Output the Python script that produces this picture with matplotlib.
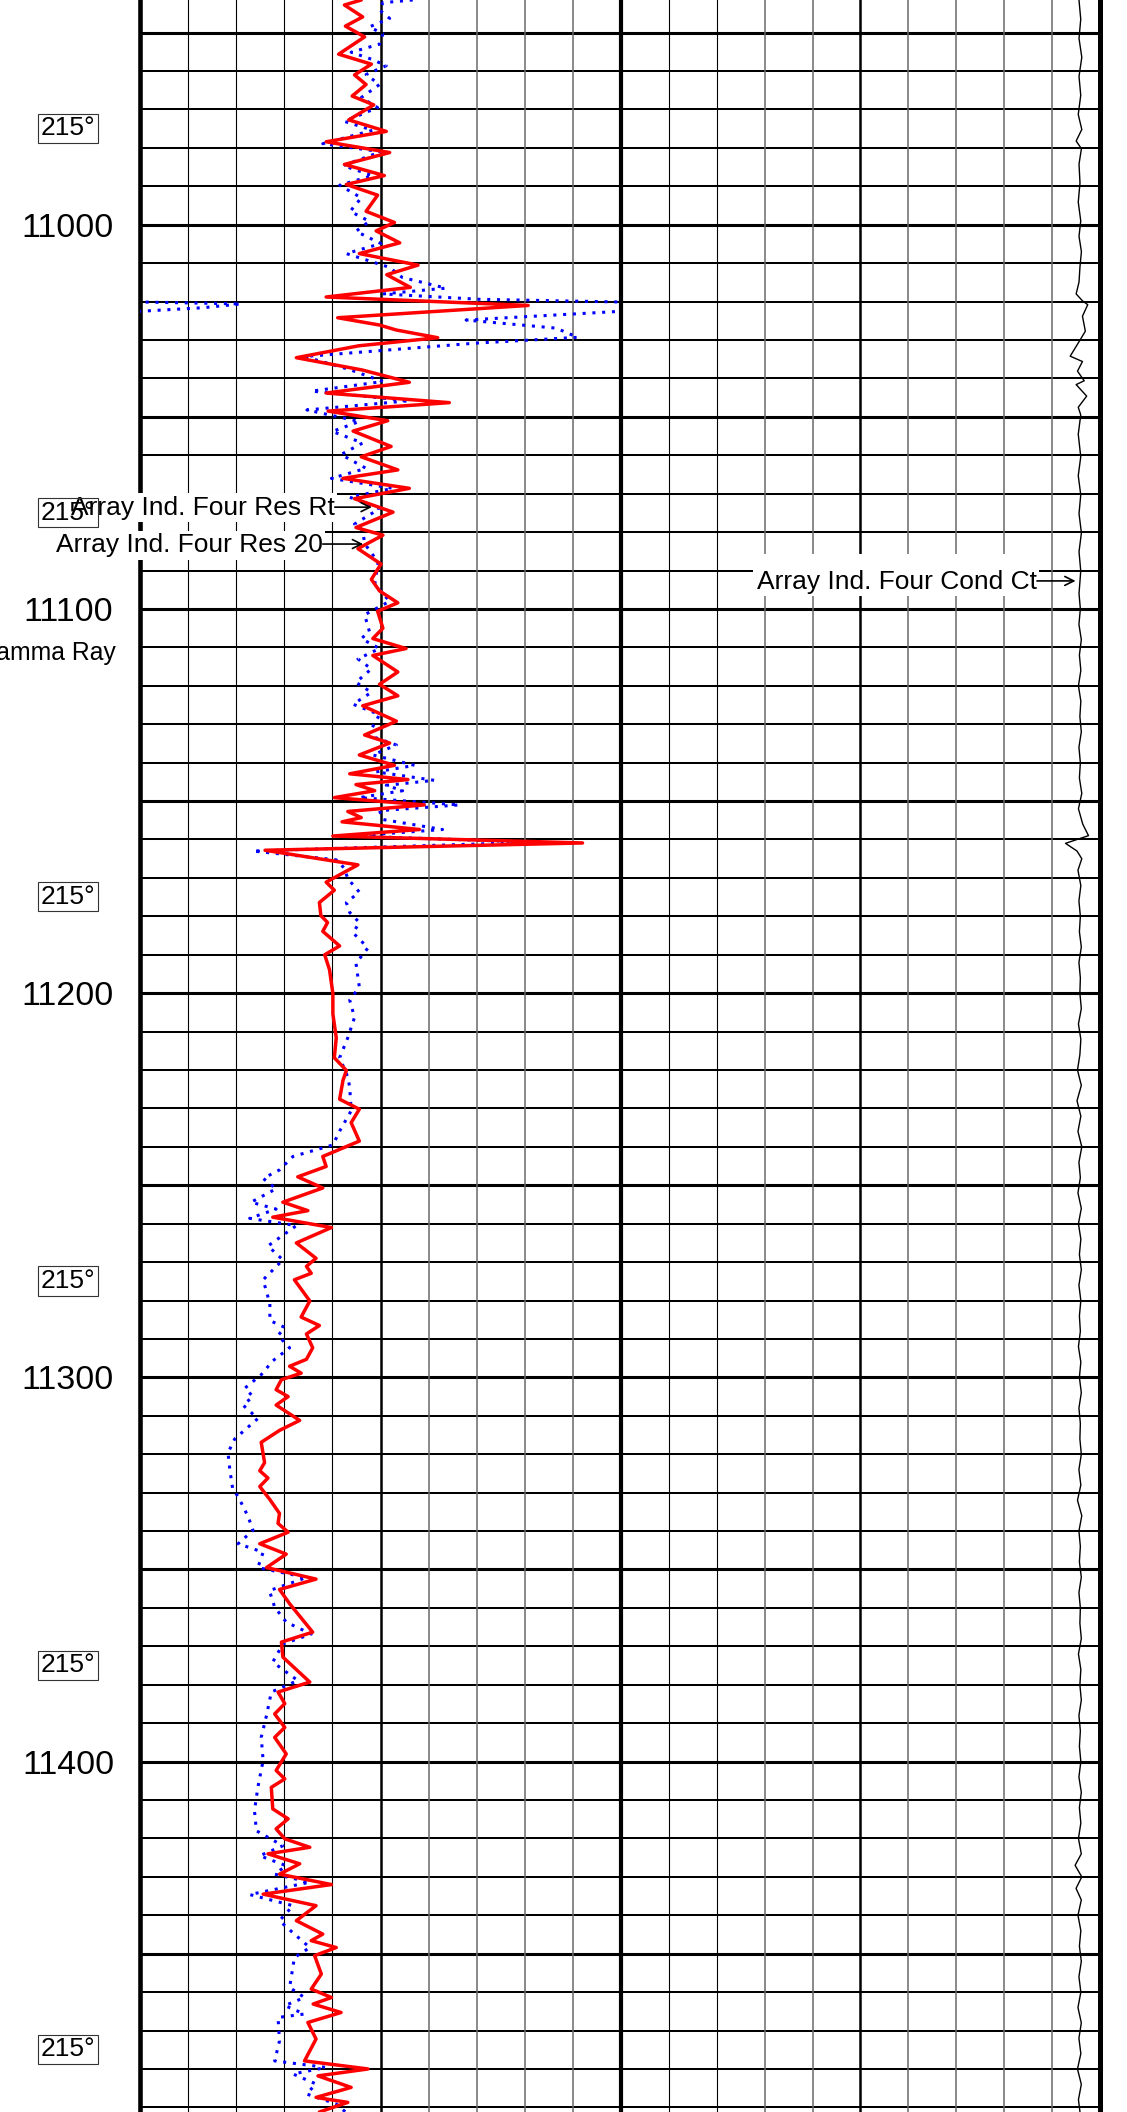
import matplotlib
matplotlib.use("Agg")
import matplotlib.pyplot as plt
from matplotlib.patches import Rectangle
from matplotlib.transforms import blended_transform_factory

plt.rcParams["font.family"] = ["Liberation Sans", "DejaVu Sans"]

# ---------------- log data ----------------
# Array Ind. Four Res Rt (ohm.m, linear 0-10)
rt_depth = [
    10941.5, 10942.8, 10945.9, 10948.3, 10951.1, 10955.6, 10958.2, 10961.0, 10963.5, 10966.5,
    10968.8, 10972.7, 10975.7, 10978.4, 10981.2, 10984.3, 10987.2, 10989.5, 10992.3, 10996.5,
    10999.4, 11001.6, 11004.7, 11007.5, 11010.5, 11013.0, 11016.3, 11018.8, 11021.0, 11024.2,
    11026.1, 11027.4, 11029.4, 11031.5, 11034.6, 11037.8, 11041.0, 11043.8, 11046.3, 11048.5,
    11051.0, 11053.7, 11057.7, 11060.4, 11063.8, 11066.0, 11068.6, 11071.3, 11074.8, 11078.8,
    11080.8, 11084.3, 11088.3, 11092.3, 11095.3, 11098.4, 11100.6, 11105.0, 11107.7, 11110.3,
    11112.1, 11116.4, 11119.6, 11122.6, 11125.2, 11129.2, 11132.8, 11134.9, 11138.0, 11140.7,
    11142.9, 11144.4, 11145.7, 11147.3, 11149.1, 11151.0, 11152.7, 11154.3, 11155.4, 11157.4,
    11159.1, 11160.9, 11162.8, 11166.6, 11171.1, 11173.2, 11176.4, 11179.8, 11181.6, 11183.9,
    11187.7, 11190.0, 11193.9, 11200.1, 11205.4, 11211.6, 11216.8, 11220.1, 11222.7, 11227.6,
    11230.2, 11233.7, 11238.5, 11242.5, 11245.1, 11247.8, 11250.7, 11254.4, 11256.6, 11258.3,
    11261.0, 11265.0, 11269.0, 11271.1, 11272.9, 11274.6, 11280.1, 11284.3, 11286.5, 11288.7,
    11292.3, 11295.3, 11297.1, 11298.9, 11300.6, 11303.2, 11305.0, 11307.2, 11311.2, 11313.8,
    11316.9, 11322.2, 11324.3, 11326.2, 11328.4, 11331.8, 11335.4, 11338.0, 11340.3, 11343.3,
    11346.0, 11349.5, 11352.5, 11355.2, 11358.9, 11366.3, 11368.9, 11372.8, 11379.3, 11381.9,
    11384.9, 11387.6, 11391.1, 11393.7, 11398.0, 11402.3, 11404.5, 11406.7, 11412.3, 11414.9,
    11417.5, 11420.1, 11422.3, 11424.0, 11426.6, 11429.3, 11432.0, 11434.5, 11437.5, 11441.4,
    11444.9, 11446.6, 11448.4, 11450.5, 11455.3, 11459.2, 11461.4, 11463.1, 11465.3, 11467.9,
    11472.2, 11477.9, 11480.0, 11481.8, 11484.8, 11487.4, 11488.7, 11491.2,
]
rt_ohmm = [
    4.60, 4.25, 4.63, 4.27, 4.67, 4.13, 4.81, 4.46, 4.70, 4.41,
    4.86, 4.34, 5.12, 3.87, 5.19, 4.25, 5.08, 4.29, 4.94, 4.70,
    5.29, 4.91, 5.40, 4.56, 5.78, 5.13, 5.62, 3.87, 8.07, 4.11,
    4.98, 5.33, 6.19, 4.55, 3.25, 4.62, 5.60, 3.87, 6.43, 3.91,
    5.15, 4.43, 5.22, 4.60, 5.36, 4.22, 5.60, 4.46, 5.26, 4.49,
    5.05, 4.53, 5.01, 4.81, 4.98, 5.36, 4.94, 5.05, 4.84, 5.53,
    4.84, 5.36, 4.98, 5.36, 4.63, 5.33, 4.67, 5.19, 4.56, 5.29,
    4.36, 5.57, 4.49, 4.88, 4.04, 5.91, 4.32, 4.60, 4.20, 5.81,
    4.01, 9.20, 2.60, 4.53, 3.87, 4.04, 3.73, 3.76, 3.90, 3.80,
    4.15, 3.84, 3.94, 4.01, 4.01, 4.08, 4.04, 4.29, 4.22, 4.15,
    4.56, 4.39, 4.56, 3.80, 3.87, 3.28, 3.80, 2.97, 3.49, 2.76,
    3.98, 3.25, 3.66, 3.46, 3.56, 3.21, 3.53, 3.35, 3.73, 3.46,
    3.59, 3.46, 3.11, 3.35, 2.94, 2.83, 3.08, 2.83, 3.32, 2.90,
    2.52, 2.59, 2.49, 2.66, 2.49, 2.70, 2.90, 2.87, 3.08, 2.49,
    3.04, 2.63, 3.66, 2.90, 3.11, 3.59, 2.94, 2.97, 3.53, 2.87,
    3.01, 2.80, 3.01, 2.80, 3.04, 2.83, 3.01, 2.73, 2.76, 3.08,
    2.83, 3.01, 3.53, 2.66, 3.32, 2.90, 3.98, 2.56, 3.66, 3.25,
    3.80, 3.56, 4.08, 3.63, 3.77, 3.56, 3.98, 3.60, 4.18, 3.49,
    3.66, 3.42, 4.74, 3.70, 4.39, 3.66, 4.32, 3.73,
]

# Array Ind. Four Res 20 (ohm.m, linear 0-10, wraps onto a backup scale above 10)
r20_depth = [
    10941.5, 10942.2, 10944.1, 10946.3, 10948.5, 10950.3, 10953.0, 10955.1, 10956.9, 10958.6,
    10960.9, 10963.5, 10966.9, 10969.5, 10973.1, 10975.4, 10978.9, 10981.0, 10984.6, 10987.2,
    10989.7, 10993.0, 10996.5, 10999.1, 11001.7, 11004.9, 11007.5, 11011.1, 11013.7, 11016.5,
    11018.0, 11019.4, 11020.6, 11021.6, 11022.6, 11024.8, 11026.9, 11029.3, 11030.8, 11034.3,
    11037.7, 11040.8, 11043.3, 11045.8, 11048.2, 11051.2, 11053.8, 11056.8, 11059.8, 11063.4,
    11066.0, 11068.6, 11070.9, 11073.9, 11077.9, 11079.5, 11083.0, 11087.8, 11093.6, 11098.0,
    11101.5, 11105.9, 11107.7, 11110.3, 11113.0, 11115.6, 11119.1, 11121.7, 11124.8, 11127.5,
    11132.8, 11135.4, 11138.0, 11140.7, 11142.4, 11144.6, 11145.9, 11147.3, 11149.1, 11151.0,
    11152.5, 11154.8, 11157.4, 11159.1, 11160.7, 11163.0, 11165.3, 11167.5, 11170.2, 11173.7,
    11176.4, 11179.0, 11181.6, 11184.3, 11188.2, 11192.2, 11198.4, 11201.8, 11206.3, 11211.6,
    11216.8, 11221.8, 11224.5, 11230.6, 11235.9, 11239.5, 11242.5, 11246.0, 11248.2, 11250.9,
    11254.4, 11256.2, 11258.6, 11260.5, 11265.8, 11269.4, 11274.6, 11280.8, 11285.2, 11287.0,
    11289.1, 11292.3, 11295.7, 11299.3, 11302.8, 11305.0, 11307.2, 11310.7, 11316.0, 11319.6,
    11324.3, 11329.2, 11331.0, 11336.3, 11339.8, 11343.3, 11345.5, 11349.5, 11352.1, 11355.5,
    11359.8, 11363.7, 11366.8, 11369.4, 11374.1, 11378.9, 11381.9, 11388.0, 11393.7, 11399.7,
    11406.7, 11412.8, 11418.0, 11421.9, 11424.5, 11427.1, 11429.3, 11431.4, 11434.6, 11437.5,
    11441.4, 11444.9, 11448.4, 11451.0, 11458.8, 11461.4, 11463.5, 11465.7, 11466.6, 11472.7,
    11477.9, 11479.6, 11481.3, 11483.9, 11486.5, 11489.1, 11491.4,
]
r20_ohmm = [
    5.67, 5.05, 4.98, 5.19, 4.77, 5.05, 4.98, 4.39, 4.81, 5.12,
    4.70, 4.98, 4.60, 4.94, 4.25, 4.84, 3.80, 5.01, 4.22, 4.84,
    4.15, 4.60, 4.37, 4.77, 4.49, 5.01, 4.29, 5.19, 5.45, 6.36,
    5.05, 7.06, 12.10, 11.30, 9.90, 6.78, 8.65, 9.10, 6.99, 3.42,
    4.36, 5.05, 3.57, 5.60, 3.47, 4.56, 4.00, 4.63, 4.18, 4.70,
    3.98, 5.26, 4.36, 4.98, 4.46, 4.63, 4.67, 4.95, 4.88, 5.19,
    4.67, 4.77, 4.60, 4.98, 4.53, 4.81, 4.49, 4.81, 4.43, 4.98,
    4.74, 5.33, 4.84, 5.71, 4.91, 6.12, 5.12, 5.46, 4.56, 6.64,
    4.98, 5.05, 6.29, 4.43, 8.20, 2.35, 4.08, 4.25, 4.32, 4.56,
    4.29, 4.36, 4.56, 4.43, 4.74, 4.49, 4.56, 4.36, 4.46, 4.32,
    4.15, 4.32, 4.36, 4.39, 4.15, 4.01, 3.18, 2.90, 2.56, 2.83,
    2.31, 2.83, 2.28, 3.25, 2.66, 2.97, 2.56, 2.70, 2.70, 3.01,
    2.87, 3.11, 2.76, 2.52, 2.18, 2.35, 2.14, 2.45, 1.97, 1.83,
    1.87, 1.93, 2.04, 2.25, 2.35, 2.04, 2.56, 2.45, 3.46, 2.69,
    2.80, 3.04, 3.56, 2.97, 2.76, 3.28, 2.73, 2.63, 2.52, 2.56,
    2.45, 2.38, 2.42, 2.97, 2.49, 3.04, 2.80, 3.53, 2.28, 3.18,
    2.90, 3.21, 3.53, 3.21, 3.11, 3.42, 3.01, 3.42, 2.87, 2.90,
    2.80, 3.87, 3.18, 3.66, 3.46, 4.08, 4.29,
]

# Array Ind. Four Cond Ct (mmho/m, 500 on the left to 0 on the right)
ct_depth = [
    10941.6, 10946.5, 10951.5, 10956.4, 10961.4, 10966.3, 10971.3, 10975.2, 10978.2, 10980.2,
    10984.2, 10989.1, 10994.1, 10999.0, 11003.0, 11007.0, 11010.9, 11014.9, 11018.0, 11019.8,
    11020.8, 11023.8, 11027.7, 11029.7, 11034.2, 11035.6, 11038.1, 11040.6, 11041.6, 11044.6,
    11047.5, 11049.5, 11054.5, 11060.4, 11065.3, 11070.3, 11075.2, 11080.2, 11085.1, 11090.1,
    11096.0, 11100.0, 11104.0, 11108.0, 11112.0, 11116.0, 11120.0, 11124.0, 11128.0, 11132.0,
    11136.0, 11140.0, 11144.0, 11148.0, 11152.0, 11156.0, 11159.0, 11161.0, 11163.0, 11165.0,
    11168.0, 11172.0, 11176.0, 11180.0, 11184.0, 11188.0, 11192.0, 11196.0, 11200.0, 11204.0,
    11208.0, 11212.0, 11216.0, 11220.0, 11224.0, 11228.0, 11232.0, 11236.0, 11240.0, 11244.0,
    11248.0, 11252.0, 11256.0, 11260.0, 11264.0, 11268.0, 11272.0, 11276.0, 11280.0, 11284.0,
    11288.0, 11292.0, 11296.0, 11300.0, 11304.0, 11308.0, 11312.0, 11316.0, 11320.0, 11324.0,
    11328.0, 11332.0, 11336.0, 11340.0, 11344.0, 11348.0, 11352.0, 11356.0, 11360.0, 11364.0,
    11368.0, 11372.0, 11376.0, 11380.0, 11384.0, 11388.0, 11392.0, 11396.0, 11400.0, 11404.0,
    11408.0, 11412.0, 11416.0, 11420.0, 11424.0, 11427.0, 11430.0, 11433.0, 11436.0, 11440.0,
    11444.0, 11448.0, 11452.0, 11456.0, 11460.0, 11464.0, 11468.0, 11472.0, 11476.0, 11480.0,
    11484.0, 11488.0, 11492.0,
]
ct_mmho = [
    21.9, 20.1, 21.9, 19.0, 21.9, 20.1, 22.7, 19.0, 24.9, 19.4,
    21.9, 20.9, 22.7, 20.1, 21.9, 19.4, 20.9, 21.9, 24.9, 18.3,
    12.8, 18.3, 15.3, 20.1, 31.1, 18.3, 23.5, 16.5, 24.9, 13.9,
    22.7, 20.1, 22.7, 20.1, 22.7, 20.1, 21.9, 19.4, 21.9, 20.1,
    21.9, 20.5, 22.0, 19.5, 21.5, 20.0, 22.5, 20.0, 21.0, 19.5,
    22.0, 20.5, 21.5, 19.0, 22.5, 18.0, 12.0, 36.0, 24.0, 19.0,
    23.0, 20.0, 22.0, 20.5, 21.5, 19.5, 22.0, 20.5, 21.0, 19.5,
    22.5, 20.0, 21.0, 23.5, 19.5, 24.0, 20.0, 23.0, 19.0, 22.0,
    20.5, 23.0, 19.5, 22.5, 20.0, 21.5, 19.5, 22.0, 20.0, 21.5,
    20.5, 22.5, 20.0, 21.5, 19.5, 22.0, 20.5, 21.0, 19.5, 22.0,
    20.0, 23.5, 19.0, 22.0, 20.5, 21.5, 19.5, 22.0, 20.5, 21.0,
    19.5, 22.5, 20.0, 21.0, 19.5, 22.0, 20.5, 21.5, 20.0, 22.0,
    19.5, 21.5, 20.0, 22.5, 19.5, 26.0, 19.0, 25.0, 19.5, 23.0,
    20.0, 21.5, 19.5, 22.0, 20.0, 23.0, 19.5, 22.0, 20.0, 23.5,
    19.5, 22.5, 20.5,
]

depth_labels = [11000, 11100, 11200, 11300, 11400]
azimuth_depths = [10975, 11075, 11175, 11275, 11375, 11475]
azimuth_text = "215°"

# ---------------- layout ----------------
W_PX, H_PX, DPI = 1127, 2112, 100
DEPTH_TOP, DEPTH_BOTTOM = 10941.5, 11491.2
RES_LEFT, RES_RIGHT = 0.0, 10.0
CT_LEFT, CT_RIGHT = 500.0, 0.0


def fx(px):
    return px / W_PX


fig = plt.figure(figsize=(W_PX / DPI, H_PX / DPI), dpi=DPI)
fig.patch.set_facecolor("white")

ax_res = fig.add_axes([fx(140), 0.0, fx(621 - 140), 1.0])
ax_ct = fig.add_axes([fx(621), 0.0, fx(1100 - 621), 1.0])
for ax in (ax_res, ax_ct):
    ax.set_ylim(DEPTH_BOTTOM, DEPTH_TOP)
    ax.axis("off")
ax_res.set_xlim(RES_LEFT, RES_RIGHT)
ax_ct.set_xlim(CT_LEFT, CT_RIGHT)

# depth grid: every 10 ft, heavier every 50 ft
for d in range(10950, 11491, 10):
    lw = 2.2 if d % 50 == 0 else 1.45
    ax_res.axhline(d, color="black", lw=lw, zorder=1)
    ax_ct.axhline(d, color="black", lw=lw, zorder=1)

# linear division lines (dark on the left half of each track, grey on the right)
thin_dark = dict(color="black", lw=0.8, zorder=1)
thin_grey = dict(color="#6a6a6a", lw=1.1, zorder=1)
for v in range(1, 10):
    if v == 5:
        ax_res.axvline(v, color="black", lw=1.8, zorder=1)
    else:
        ax_res.axvline(v, **(thin_dark if v < 5 else thin_grey))
for v in range(50, 500, 50):
    if v == 250:
        ax_ct.axvline(v, color="black", lw=1.8, zorder=1)
    else:
        ax_ct.axvline(v, **(thin_dark if v > 350 else thin_grey))

# track borders
ax_res.axvline(RES_LEFT, color="black", lw=3.3, zorder=2, clip_on=False)
ax_ct.axvline(CT_LEFT, color="black", lw=3.0, zorder=2, clip_on=False)
ax_ct.axvline(CT_RIGHT, color="black", lw=3.6, zorder=2, clip_on=False)

# curves
dot = dict(color="#0000ff", lw=2.2, ls=(0, (1, 2.2)), dash_capstyle="butt", zorder=3)
ax_res.plot(r20_ohmm, r20_depth, **dot)
span = RES_RIGHT - RES_LEFT
ax_res.plot([v - span for v in r20_ohmm], r20_depth, **dot)  # backup wrap
ax_res.plot(rt_ohmm, rt_depth, color="#ff0000", lw=2.5, zorder=4,
            solid_joinstyle="round", solid_capstyle="round")
ax_ct.plot(ct_mmho, ct_depth, color="black", lw=1.0, zorder=3)

# ---------------- annotations ----------------
lab = blended_transform_factory(fig.transFigure, ax_res.transData)

for d in depth_labels:
    ax_res.text(fx(68), d + 3.1, f"{d}", transform=lab, ha="center", va="baseline",
                fontsize=24.5, clip_on=False, zorder=8)

for d in azimuth_depths:
    ax_res.text(fx(68), d + 1.75, azimuth_text, transform=lab, ha="center", va="baseline",
                fontsize=19, clip_on=False, zorder=9,
                bbox=dict(boxstyle="square,pad=0.1", fc="none", ec="#333333", lw=0.8))

ax_res.text(fx(116), 11113.3, "Gamma Ray", transform=lab, ha="right", va="baseline",
            fontsize=17.8, clip_on=False, zorder=8)

arrow = dict(arrowstyle="->", lw=1.2, color="black", shrinkA=0, shrinkB=0,
             mutation_scale=16)
label_box = dict(boxstyle="square,pad=0.1", fc="white", ec="none")

curve_labels = [
    ("Array Ind. Four Res Rt", 4.05, 11075.5, 4.82, 11073.5),
    ("Array Ind. Four Res 20", 3.80, 11085.3, 4.64, 11083.1),
]
for text, x_end, d_base, x_tip, d_arrow in curve_labels:
    ax_res.text(x_end, d_base, text, ha="right", va="baseline", fontsize=19,
                bbox=label_box, clip_on=False, zorder=7)
    ax_res.annotate("", xy=(x_tip, d_arrow), xytext=(x_end, d_arrow),
                    arrowprops=arrow, zorder=7, annotation_clip=False)

ax_ct.add_patch(Rectangle((63.7, 11085.6), 362.2 - 63.7, 11096.5 - 11085.6,
                          fc="white", ec="none", zorder=6))
ax_ct.text(65.8, 11094.8, "Array Ind. Four Cond Ct", ha="right", va="baseline",
           fontsize=19, clip_on=False, zorder=7)
ax_ct.annotate("", xy=(25.5, 11092.7), xytext=(65.8, 11092.7),
               arrowprops=arrow, zorder=7, annotation_clip=False)

fig.savefig("out.png", dpi=DPI, facecolor="white")
